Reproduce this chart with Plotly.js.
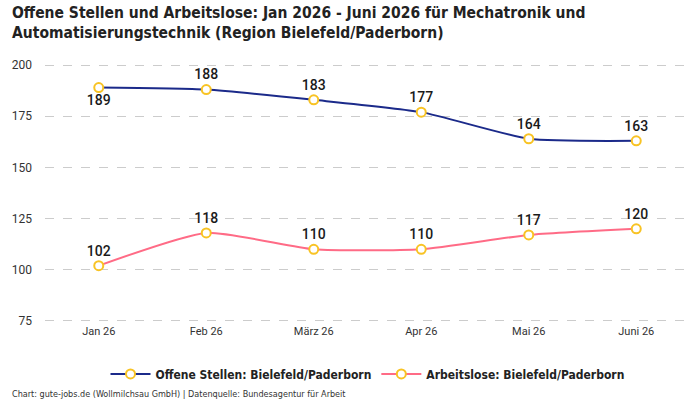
<!DOCTYPE html>
<html>
<head>
<meta charset="utf-8">
<script src="https://cdn.plot.ly/plotly-3.0.1.min.js"></script>
<style>
  html, body { margin: 0; padding: 0; background: #fff; }
  #chart { width: 700px; height: 400px; }
</style>
</head>
<body>
<div id="chart"></div>
<script>
// Monate
const months = ['Jan 26', 'Feb 26', 'März 26', 'Apr 26', 'Mai 26', 'Juni 26'];
// Offene Stellen (Bielefeld/Paderborn)
const offeneStellen = [189, 188, 183, 177, 164, 163];
// Arbeitslose (Bielefeld/Paderborn)
const arbeitslose = [102, 118, 110, 110, 117, 120];
const yTicks = [75, 100, 125, 150, 175, 200];

const condensed = '"DejaVu Sans Condensed", "Liberation Sans Narrow", Roboto, sans-serif';
const labelFont = { family: 'Roboto, "Noto Sans", sans-serif', size: 14, color: '#1a1a1a', weight: 500 };

const marker = { size: 9, color: '#ffffff', line: { color: '#f8c324', width: 2 } };

const traces = [
  {
    name: 'Offene Stellen: Bielefeld/Paderborn',
    x: months, y: offeneStellen,
    type: 'scatter', mode: 'lines+markers+text',
    line: { color: '#1b2a8a', width: 2, shape: 'spline', smoothing: 0.55 },
    marker: marker,
    text: offeneStellen.map(String),
    textposition: offeneStellen.map((v, i) => i === 0 ? 'bottom center' : 'top center'),
    textfont: labelFont,
    cliponaxis: false,
    hoverinfo: 'skip'
  },
  {
    name: 'Arbeitslose: Bielefeld/Paderborn',
    x: months, y: arbeitslose,
    type: 'scatter', mode: 'lines+markers+text',
    line: { color: '#ff6b86', width: 2, shape: 'spline', smoothing: 0.55 },
    marker: marker,
    text: arbeitslose.map(String),
    textposition: 'top center',
    textfont: labelFont,
    cliponaxis: false,
    hoverinfo: 'skip'
  }
];

const layout = {
  width: 700, height: 400,
  paper_bgcolor: '#ffffff', plot_bgcolor: '#ffffff',
  margin: { l: 45, r: 10, t: 63, b: 77 },
  xaxis: {
    type: 'category', range: [-0.5, 5.5],
    showgrid: false, zeroline: false, showline: false,
    ticks: '', ticklen: 0,
    tickfont: { family: 'Roboto, sans-serif', size: 11, color: '#333' }
  },
  yaxis: {
    range: [74, 201], tickvals: yTicks, ticktext: yTicks.map(String),
    showgrid: true, gridcolor: '#cccccc', griddash: 'dash', gridwidth: 1,
    zeroline: false, showline: false, ticks: '', ticklabelstandoff: 12,
    automargin: false,
    tickfont: { family: 'Roboto, sans-serif', size: 12, color: '#333' }
  },
  showlegend: true,
  legend: {
    orientation: 'h', x: 0.5, xanchor: 'center', y: -0.14, yanchor: 'top',
    font: { family: condensed, size: 12, color: '#222', weight: 'bold' },
    itemwidth: 40
  },
  annotations: [
    {
      text: '<b>Offene Stellen und Arbeitslose: Jan 2026 - Juni 2026 für Mechatronik und<br>Automatisierungstechnik (Region Bielefeld/Paderborn)</b>',
      xref: 'paper', yref: 'paper', x: -0.054, y: 1.235, xanchor: 'left', yanchor: 'top',
      align: 'left', showarrow: false,
      font: { family: condensed, size: 15.5, color: '#222' }
    },
    {
      text: 'Chart: gute-jobs.de (Wollmilchsau GmbH) | Datenquelle: Bundesagentur für Arbeit',
      xref: 'paper', yref: 'paper', x: -0.054, y: -0.245, xanchor: 'left', yanchor: 'top',
      showarrow: false, font: { family: condensed, size: 9, color: '#333' }
    }
  ]
};

Plotly.newPlot('chart', traces, layout, { displayModeBar: false, staticPlot: true });
</script>
</body>
</html>
